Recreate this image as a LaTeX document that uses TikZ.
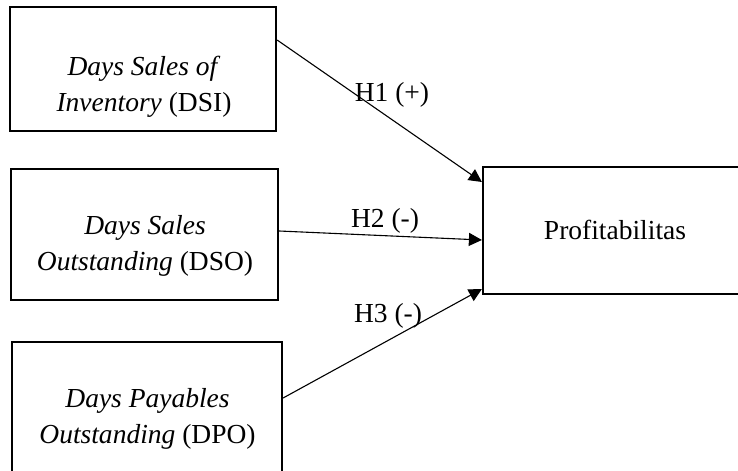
\documentclass[tikz,border=0pt]{standalone}
\usepackage{fontspec}
\setmainfont{Liberation Serif}
\usetikzlibrary{arrows.meta}
\begin{document}
\begin{tikzpicture}[x=1bp,y=-1bp,
  box/.style={draw=black,line width=2.2bp,rectangle,inner sep=0pt},
  lbl/.style={font=\fontsize{27.5bp}{36bp}\selectfont,inner sep=0pt,align=center},
  conn/.style={line width=1.1bp,-{Triangle[length=13bp,width=13bp]}}]
\useasboundingbox (0,0) rectangle (738,471);
\clip (0,0) rectangle (738,471);
\fill[white] (0,0) rectangle (738,471);
\node[box,minimum width=266bp,minimum height=124bp] (b1) at (143,69) {};
\node[box,minimum width=267bp,minimum height=131bp] (b2) at (144.5,234.5) {};
\node[box,minimum width=270bp,minimum height=140bp] (b3) at (147,412) {};
\node[box,minimum width=267bp,minimum height=127bp] (p) at (616.5,230.5) {};
\node[lbl,anchor=base] (t1) at (144,112) {\textit{Days Sales of}\\\textit{Inventory} (DSI)};
\node[lbl,anchor=base] (t2) at (145,271) {\textit{Days Sales}\\\textit{Outstanding} (DSO)};
\node[lbl,anchor=base] (t3) at (147.5,443) {\textit{Days Payables}\\\textit{Outstanding} (DPO)};
\node[lbl,anchor=base] (tp) at (615,240) {Profitabilitas};
\draw[conn] ([yshift=29bp]b1.east) -- ([yshift=48.5bp]p.west);
\draw[conn] ([yshift=3.5bp]b2.east) -- ([yshift=-9.5bp]p.west);
\draw[conn] ([yshift=14bp]b3.east) -- ([yshift=-58.5bp]p.west);
\node[lbl,anchor=base] (h1) at (392,102) {H1 (+)};
\node[lbl,anchor=base] (h2) at (385,228) {H2 (-)};
\node[lbl,anchor=base] (h3) at (388,323) {H3 (-)};
\end{tikzpicture}
\end{document}
